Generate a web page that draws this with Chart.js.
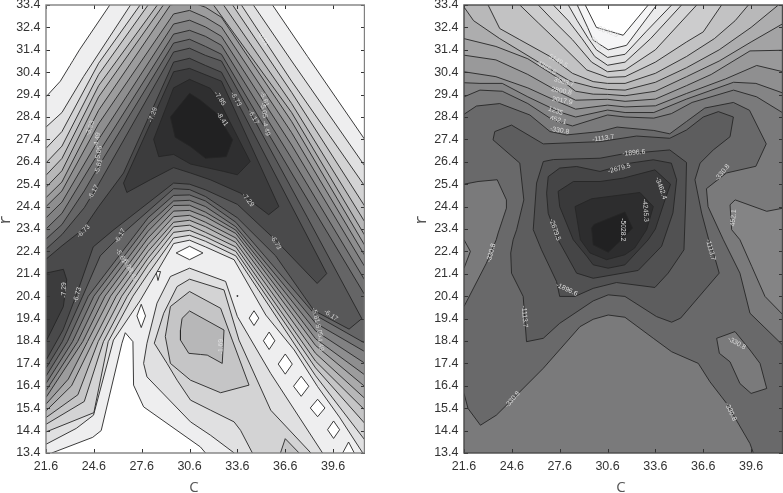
<!DOCTYPE html>
<html><head><meta charset="utf-8">
<style>
html,body{margin:0;padding:0;background:#fff;width:783px;height:493px;overflow:hidden}
.w{position:absolute;top:0;height:493px}
</style>
<script src="https://cdn.jsdelivr.net/npm/chart.js@4"></script>
</head><body>
<div class="w" style="left:0;width:365px"><canvas id="a"></canvas></div>
<div class="w" style="left:415px;width:368px"><canvas id="b"></canvas></div>
<script>
const xTicks=[21.6,24.6,27.6,30.6,33.6,36.6,39.6];
const yTicks=[13.4,14.4,15.4,16.4,17.4,18.4,19.4,20.4,21.4,22.4,23.4,24.4,25.4,26.4,27.4,28.4,29.4,30.4,31.4,32.4,33.4];

// LEFT PLOT: contour outlines, data coordinates (C, r)
const A15=[[20.5,29.3],[21.6,29.3],[22.5,30],[23.7,31.4],[25.6,33.4],[25.6,34.5],[35.8,34.5],[35.8,33.4],[38,31.1],[41.6,27.38],[42.5,26.4],[42.5,12.5],[31.6,12.5],[31.6,13.4],[31.28,13.67],[27.72,15.46],[27.09,16.43],[27.05,18.37],[26.57,18.77],[26.36,18.3],[25.06,14.4],[24.53,14.1],[21.96,13.4],[21.96,12.5],[20.5,12.5]];
const A14=[[20.5,27.95],[21.6,27.95],[22.6,28.6],[23.95,30.2],[26.9,33.4],[26.9,34.5],[34.6,34.5],[34.6,33.4],[37,30.9],[41.6,26.2],[42.5,26.2],[42.5,12.5],[41.46,12.5],[41.46,13.4],[40,15],[38.63,16.36],[37.16,18],[35.38,19.56],[33.39,22.03],[31.6,22.6],[30.6,22.9],[29.6,22.75],[27.5,20.2],[25.83,18.44],[24.58,15.09],[23.5,14.5],[21.6,13.79],[20.5,13.79]];
const A13=[[20.5,27],[21.6,27],[22.6,27.75],[24.9,30.8],[27.5,33.4],[27.5,34.5],[33.85,34.5],[33.85,33.4],[37,30],[41.6,25.3],[42.5,25.3],[42.5,13.97],[41.6,13.97],[38.5,16.85],[33.5,22.2],[31.6,22.85],[30.6,23.12],[29.6,23],[28,21.4],[27.05,20.4],[25.5,18.37],[24.6,15.2],[21.6,14.34],[20.5,14.34]];
const A12=[[20.5,26.35],[21.6,26.35],[22.6,27.1],[24.9,30.3],[28,33.4],[28,34.5],[33.3,34.5],[33.3,33.4],[37,29.5],[41.6,24.4],[42.5,24.4],[42.5,14.71],[41.6,14.71],[38.5,17.2],[33.5,22.4],[31.6,23.05],[30.6,23.34],[29.6,23.25],[28,21.8],[26.7,20.4],[25.2,18.37],[24,15.7],[21.6,14.68],[20.5,14.68]];
const A11=[[20.5,25.8],[21.6,25.8],[22.6,26.55],[24.9,29.8],[28.58,33.4],[28.58,34.5],[32.73,34.5],[32.73,33.4],[37,29],[41.6,23.7],[42.5,23.7],[42.5,15.31],[41.6,15.31],[38.5,17.5],[33.5,22.6],[31.6,23.25],[30.6,23.57],[29.6,23.5],[28,22.1],[26.35,20.4],[24.87,18.37],[23.6,16],[21.6,14.98],[20.5,14.98]];
const A10=[[20.5,25.26],[21.6,25.26],[22.6,26],[24.9,29.3],[28.96,33.4],[28.96,34.5],[32.1,34.5],[32.1,33.4],[37,28.6],[41.6,23.1],[42.5,23.1],[42.5,15.83],[41.6,15.83],[38.5,17.85],[33.5,22.8],[31.6,23.5],[30.6,23.79],[29.6,23.7],[28,22.4],[26,20.4],[24.55,18.37],[23.2,16.4],[21.6,15.28],[20.5,15.28]];
const A9=[[20.5,24.8],[21.6,24.8],[22.6,25.5],[24.9,28.7],[29.4,33.4],[30.6,33.55],[31.6,33.3],[32.6,32.85],[37,28.2],[41.6,22.65],[42.5,22.65],[42.5,16.36],[41.6,16.36],[38.5,18.2],[33.5,23],[31.6,23.7],[30.6,24.01],[29.6,23.95],[28,22.7],[25.65,20.4],[24.2,18.37],[23,16.7],[21.6,15.58],[20.5,15.58]];
const A8=[[20.5,24.4],[21.6,24.4],[22.6,25.1],[24.9,28.1],[29.6,33],[30.6,33.16],[31.6,32.85],[32.6,32.42],[37,27.7],[41.6,22.2],[42.5,22.2],[42.5,16.88],[41.6,16.88],[38.5,18.5],[33.5,23.2],[31.6,23.95],[30.6,24.23],[29.6,24.2],[28,23],[25.3,20.4],[23.9,18.37],[21.6,15.88],[20.5,15.88]];
const A7=[[20.5,23.9],[21.6,23.9],[22.6,24.6],[24.9,27.4],[29.6,32.55],[30.6,32.72],[31.6,32.42],[32.6,32],[37,27.15],[41.6,21.7],[42.5,21.7],[42.5,17.4],[41.6,17.4],[38.5,18.85],[33.5,23.35],[31.6,24.15],[30.6,24.46],[29.6,24.45],[28,23.3],[24.95,20.4],[23.58,18.37],[21.6,16.18],[20.5,16.18]];
const A6=[[20.5,23.4],[21.6,23.4],[22.6,24.1],[24.9,26.8],[29.6,32.1],[30.6,32.27],[31.6,32],[32.6,31.6],[37,26.55],[41.6,21.1],[42.5,21.1],[42.5,17.92],[41.6,17.92],[38.5,19.2],[33.5,23.5],[31.6,24.4],[30.6,24.68],[29.6,24.65],[28,23.6],[24.6,20.4],[23.26,18.37],[21.6,16.5],[20.5,16.5]];
const A5=[[20.5,22.95],[21.6,22.95],[22.6,23.6],[24,25.1],[24.9,26.2],[29.6,31.7],[30.6,31.87],[31.6,31.55],[32.6,31.2],[37,25.9],[41.6,20.44],[42.5,20.44],[42.5,18.3],[41.6,18.3],[38.5,19.55],[33.5,23.7],[31.6,24.65],[30.6,24.92],[29.6,24.9],[28,23.9],[24.25,20.4],[22.94,18.37],[21.6,16.83],[20.5,16.83]];
const A4=[[20.5,22.5],[21.6,22.5],[22.6,23.15],[24,24.35],[24.9,25.4],[29.6,31.3],[30.6,31.47],[31.6,31.15],[32.6,30.9],[34.5,28.48],[38,23.9],[41.4,19.4],[40.6,18.93],[38.4,19.76],[36,22.2],[33.6,23.9],[31.6,24.85],[30.6,25.16],[29.6,25.2],[26.25,23.1],[25,22.2],[23.9,20.4],[22.62,18.37],[21.6,17.18],[20.5,17.18]];
const A3=[[20.5,22.05],[21.6,22.05],[22.6,22.65],[23.94,23.4],[24.9,24.4],[26.46,25.9],[29.6,30.85],[30.6,31.02],[31.6,30.7],[32.6,30.4],[33.5,29.2],[39.2,21.41],[38.6,20.97],[36,22.9],[33.6,24.5],[31.6,25.15],[30.6,25.4],[29.6,25.45],[25.8,23.34],[24.56,22.6],[23.53,20.5],[22.67,18.9],[21.65,17.6],[20.5,17.5]];
const A2=[[30.6,30.57],[29.6,30.42],[28.14,28.1],[26.46,25.45],[26.67,25.03],[28.14,25.6],[29.6,26.14],[30.66,25.9],[31.9,25.6],[33.8,25],[35.56,24.04],[36.2,24.4],[32.6,30]];
const A2b=[[20.5,21.43],[21.6,21.43],[22.69,21.6],[22.9,21.13],[22.69,19.94],[21.6,18.37],[20.5,18.37]];
const A1=[[30.6,30.08],[29.6,29.7],[28.35,27.4],[28.67,26.63],[29.6,26.73],[30.66,26.3],[32.74,25.97],[33.6,25.82],[34.4,26.41],[32.4,29.2],[31.9,29.68]];
const A0=[[30.6,29.46],[29.4,28.4],[29.7,27.5],[30.66,27.08],[31.6,26.56],[32.9,26.63],[33.3,27.38],[32.3,28.56],[31.28,29.15]];
const B14=[[27.72,17.4],[27.93,18.3],[28.56,20.09],[29.4,21.28],[30.6,21.65],[32.86,21.06],[33.6,19.49],[35.69,16.95],[38.94,13.4],[38.94,12.5],[33.4,12.5],[33.4,13.4],[31.92,14.19],[30.66,14.79],[27.93,16.8]];
const B13=[[28.39,18.3],[28.98,19.64],[29.82,20.83],[30.6,21.16],[32.76,20.68],[33.7,18.44],[35.69,15.31],[38.21,13.4],[38.21,12.5],[34.54,12.5],[34.54,13.4],[33.8,14.41],[33.39,14.79],[31.92,15.31],[30.66,15.76],[29.82,16.65],[29.19,17.4]];
const B12=[[29.08,18.6],[29.4,19.94],[30.6,20.61],[32.55,19.86],[33.28,18.44],[34.33,16.43],[32.55,16.09],[30.66,16.65],[29.4,17.4]];
const B12b=[[36.3,12.5],[36.3,13.4],[36.6,14.04],[37.47,13.4],[37.47,12.5]];
const B11=[[30.6,19.74],[30.13,19.41],[30.03,18.89],[30.03,18.44],[30.55,17.85],[31.28,17.8],[31.71,17.77],[32.65,17.4],[32.76,18.89]];
// isolated high spots of the left surface
const H1=[[29.76,22.33],[30.6,22.63],[31.44,22.33],[30.6,22.03]];
const H2=[[27.3,19.52],[27.57,20.04],[27.84,19.52],[27.57,19]];
const H3=[[28.5,21.5],[28.78,21.5],[28.62,21.1]];
const H4=[[34.34,19.42],[34.64,19.75],[34.94,19.42],[34.64,19.09]];
const H5=[[35.23,18.41],[35.59,18.8],[35.95,18.41],[35.59,18.02]];
const H6=[[36.16,17.37],[36.6,17.82],[37.04,17.37],[36.6,16.92]];
const H7=[[37.12,16.38],[37.6,16.83],[38.08,16.38],[37.6,15.93]];
const H8=[[38.17,15.41],[38.63,15.8],[39.09,15.41],[38.63,15.02]];
const H9=[[39.25,14.44],[39.63,14.83],[40.01,14.44],[39.63,14.05]];
const H10=[[40.2,12.5],[40.2,13.4],[40.57,13.89],[40.93,13.4],[40.93,12.5]];
const H11=[[33.57,20.41],[33.6,20.45],[33.64,20.41],[33.6,20.37]];

// RIGHT PLOT
const R19=[[29.2,33.4],[29.9,32.4],[31.58,32.05],[33.15,33.4]];
const R18=[[28.7,33.4],[29.35,32.4],[29.7,31.83],[30.64,31.4],[31.79,31.6],[33.68,33.4]];
const R17=[[28.14,33.4],[28.7,32.7],[29.4,31.9],[29.9,31.4],[30.6,31.06],[31.7,31.2],[33,32.2],[34.62,33.4]];
const R16=[[27.2,33.4],[28.14,32.7],[29,31.9],[29.8,31.1],[30.6,30.71],[31.7,30.85],[33.3,31.9],[35.24,33.4]];
const R15=[[26.26,33.4],[27.2,32.7],[28.4,31.85],[29.6,30.85],[30.6,30.42],[31.7,30.5],[33.6,31.4],[36.19,33.4]];
const R14=[[25.1,33.4],[26.26,32.6],[27.83,31.53],[29.3,30.5],[30.6,30.17],[31.7,30.2],[33.6,30.85],[35.55,31.75],[36.6,32.2],[37.75,33.4]];
const R13=[[23.11,33.4],[23.84,32.35],[25.1,31.85],[27,31.1],[28.4,30.35],[29.7,29.98],[30.6,29.9],[31.7,29.9],[33.6,30.35],[35.55,31.1],[37.3,31.9],[38.6,32.7],[39.43,33.4]];
const R12=[[21.6,33.31],[22.2,32.7],[23.84,31.9],[26.78,30.63],[28.25,30],[29.7,29.73],[30.6,29.63],[31.7,29.6],[33.6,29.95],[35.55,30.6],[37.6,31.4],[39.6,32.4],[41.31,33.4]];
const R11=[[21.6,31.9],[23.6,31.55],[25.6,31],[27.6,30.1],[28.6,29.55],[29.7,29.42],[30.6,29.41],[31.7,29.35],[33.6,29.55],[35.55,30.2],[37.6,30.9],[39.6,31.75],[41.6,32.57]];
const R10=[[21.6,31.16],[23.6,30.95],[25.6,30.3],[27.6,29.5],[28.6,29.15],[30.6,29.19],[31.7,29.1],[33.6,29.2],[35.55,29.8],[37.1,30.3],[39.53,31.35],[41.6,31.38]];
const R9=[[21.6,30.42],[23.6,30.2],[25.6,29.7],[27.6,29.05],[28.6,28.75],[30.6,28.93],[31.7,28.85],[33.6,28.9],[35.55,29.45],[38,30.1],[39.95,30.7],[41.6,30.42]];
const R8=[[21.6,29.93],[22.6,29.9],[24,29.9],[25.6,29.3],[27.6,28.62],[28.6,28.4],[30.6,28.71],[31.7,28.6],[33.5,28.6],[35.55,29.2],[38.5,29.95],[39.9,29.9],[41.6,29.47]];
const R7=[[21.6,29.3],[22.6,29.6],[24,29.55],[25.6,29],[27.2,28.25],[28.4,28],[30.6,28.49],[31.7,28.4],[33.5,28.35],[34.6,28.55],[35.9,29.05],[38.5,29.6],[39.95,29.3],[41.6,28.58]];
const R7h1=[[42.5,24.33],[41.6,24.33],[40.58,24.19],[38.6,24.7],[38.28,24.48],[38.38,23.37],[38.9,22.92],[39.64,21.73],[40.47,20.39],[41.58,19.58],[42.5,19.58]];
const R7h2=[[20.5,22.92],[21.6,22.92],[22,22.4],[21.6,21.65],[20.5,21.65]];
const R7h3=[[42,14.86],[41.5,14.86],[41.45,14.41],[41.55,14.1],[42,14.1]];
const R6=[[21.6,28.52],[22.38,28.89],[23.84,29],[25.73,28.49],[26.99,27.75],[28.04,27.6],[30.13,27.75],[31.2,27.95],[33.5,27.8],[34.5,27.65],[35.55,28.2],[36.7,28.8],[38.49,29.05],[39.5,28.7],[40.55,27.2],[39.9,26.2],[38.05,25.9],[36.8,25.2],[36.9,24.4],[37.86,22.92],[38.9,21.43],[39.53,19.64],[41.58,18.22],[42.5,17.3],[42.5,12.5],[40,12.5],[39.74,13.4],[39.53,13.82],[38.07,15.61],[37.02,16.58],[36.29,17.4],[34.62,17.92],[33.47,18.52],[31.69,19.46],[30.64,19.56],[29.7,19.37],[28.87,19.04],[26.57,17.18],[24.58,15.76],[23.63,15.09],[22.63,14.64],[21.85,15.39],[21.6,16.06],[20.5,16.06],[20.5,19.94],[21.6,19.94],[23,21.87],[23.62,22.92],[23.74,23.22],[24.26,24.33],[24.26,24.7],[23.68,25.6],[22.48,25.52],[21.6,25.4],[20.5,25.4],[20.5,28.52]];
const R6h=[[37.44,18.52],[38.59,18.82],[39.53,18],[40.16,17.4],[40.58,16.28],[39.6,16.06],[38.9,16.5],[38.28,17.47],[37.61,17.85]];
const R5=[[23.42,27.38],[23.53,27.75],[24.58,28.04],[26.57,27.2],[30.13,27.3],[32.42,27.55],[34.5,27.45],[35.55,27.82],[36.6,28.4],[37.55,28.64],[38.49,28.4],[38.28,27.52],[37.23,26.93],[36.4,26.34],[36.08,25.6],[36.5,24.11],[37,22.77],[37.3,22.18],[37.6,21.43],[35.18,19.42],[34.62,19.24],[33.67,19.49],[31.69,20.39],[30.64,20.46],[29.7,20.19],[27.6,19.19],[26.57,18.52],[25.52,18.37],[25.31,20.39],[24.58,21.43],[24.53,22.33],[24.68,22.92],[24.9,23.37],[25.35,24.7],[25.1,26.34]];
const R4=[[31.48,26.74],[34.5,26.93],[35.55,26.37],[35.5,24.7],[35.39,22.47],[34.4,21.43],[33.57,20.79],[31.16,21.01],[29.7,20.75],[28.56,20.39],[27.6,20.39],[27.4,21.06],[26.46,22.47],[25.94,23.37],[26.15,25.45],[26.57,26.41],[27.2,26.5],[30.13,26.56]];
const R3=[[26.88,25.74],[27.6,26.12],[28.66,26.19],[30.13,25.97],[32,26.34],[33.47,26.49],[34.6,26.34],[34.93,25.6],[34.7,24.12],[33.99,22.63],[32.52,21.55],[29.7,21.2],[28.66,21.43],[27.5,22.92],[26.88,24.1],[26.78,25]];
const R2=[[33.57,26.04],[34.55,25.4],[34.2,24.7],[33.6,23.4],[33.15,22.92],[31.69,21.8],[30.64,21.65],[29.7,21.8],[29.3,22.18],[28.45,22.92],[27.6,24.4],[27.5,25.08],[28.46,25.52],[30.13,25.52],[31.58,25.67]];
const R1=[[32.63,25.03],[33.47,24.4],[33.05,23.37],[32.3,22.55],[31.69,22.25],[30.54,22.03],[29.5,22.33],[28.9,22.92],[28.56,24.4],[29.6,24.75]];
const R0=[[31.69,24.16],[32.17,23.44],[31.48,22.92],[30.64,22.36],[29.7,22.7],[29.6,23.44],[29.75,23.6]];

// contour labels: text, C, r, text angle
const leftLabels=[["-7.29",28.3,28.5,-70],["-7.85",32.5,29.22,55],["-8.41",32.65,28.3,55],["-6.73",33.5,29.2,60],["-6.17",34.6,28.4,60],["-5.61",35.3,29.2,70],["-5.05",35.25,28.7,80],["-4.49",35.4,27.9,75],["-7.29",34.26,24.7,50],["-6.73",36,22.8,60],["-6.17",24.57,25.05,-60],["-6.73",23.95,23.3,-45],["-5.61",24.9,26.19,-75],["-5.05",24.9,26.78,-80],["-4.49",24.8,27.37,-80],["-3.93",24.37,27.9,-70],["-7.29",22.75,20.68,-90],["-6.73",23.57,20.46,-75],["-6.17",26.25,23.1,-60],["-5.61",26.3,22.2,60],["-5.05",26.7,21.8,60],["-4.49",27,21.4,60],["-6.17",39.46,19.55,35],["-5.61",38.5,19.55,75],["-5.05",38.7,18.9,75],["-4.49",38.8,18.3,80],["-0.57",23.1,30.9,-60],["-0.01",35.2,31.9,55],["-0.01",27.7,15.2,60],["-1.69",32.6,18.15,-90]];
const rightLabels=[["-5028.2",31.54,23.37,90],["-4245.3",32.98,24.23,85],["-3462.4",33.95,25.22,70],["-2679.5",31.33,26.1,-15],["-1896.6",32.25,26.8,-5],["-1113.7",30.33,27.45,-8],["-330.8",37.8,25.92,-50],["452.1",38.49,23.9,-85],["-1113.7",37.06,22.47,75],["-330.8",38.7,18.3,30],["-330.8",38.32,15.24,65],["-1896.6",28.04,20.7,25],["-2679.5",27.3,23.37,70],["-1113.7",25.4,19.49,85],["-330.8",23.3,22.33,-75],["-330.8",24.64,15.79,-50],["-330.8",27.6,27.8,10],["452.1",27.5,28.26,15],["1235",27.34,28.67,20],["2017.9",27.76,29.13,10],["2800.8",27.72,29.56,10],["3583.7",27.87,29.97,15],["4366.6",26.78,30.6,30],["5149.5",27.5,30.9,30],["9846.9",30.64,32.2,20],["9064",29.9,31.68,50]];

const g=v=>`rgb(${v},${v},${v+1})`;
const pts=a=>a.map(p=>({x:p[0],y:p[1]}));
function ds(a,fill){const d=pts(a);d.push(d[0]);return {data:d,showLine:true,fill:'shape',backgroundColor:fill,borderColor:'#262626',borderWidth:0.9,pointRadius:0,tension:0,clip:0};}
// region below a contour running from left to right across the plot
function below(l){const f=l[0],e=l[l.length-1],o=[...l];
 if(e[1]>=33.4)o.push([e[0],34.5],[42.5,34.5]);else o.push([42.5,e[1]]);
 o.push([42.5,12.5],[20.5,12.5]);
 if(f[1]>=33.4)o.push([20.5,34.5],[f[0],34.5]);else o.push([20.5,f[1]]);
 return o;}
const ga=k=>g(Math.round(33+k*13.67));
const leftOrder=[[A15,ga(15)],[H1,'#fff'],[H2,'#fff'],[H3,'#fff'],[H4,'#fff'],[H5,'#fff'],[H6,'#fff'],[H7,'#fff'],[H8,'#fff'],[H9,'#fff'],[H10,'#fff'],[H11,'#fff'],
 [A14,ga(14)],[B14,ga(14)],[A13,ga(13)],[B13,ga(13)],[A12,ga(12)],[B12,ga(12)],[B12b,ga(12)],[A11,ga(11)],[B11,ga(11)],[A10,ga(10)],[A9,ga(9)],[A8,ga(8)],[A7,ga(7)],[A6,ga(6)],[A5,ga(5)],[A4,ga(4)],[A3,ga(3)],[A2,ga(2)],[A2b,ga(2)],[A1,ga(1)],[A0,ga(0)]];
const gr=k=>g(k<=6?33+k*12:Math.round(122+(k-7)*10.25));
const rightOrder=[[below(R19),gr(19)],[below(R18),gr(18)],[below(R17),gr(17)],[below(R16),gr(16)],[below(R15),gr(15)],[below(R14),gr(14)],[below(R13),gr(13)],[below(R12),gr(12)],[below(R11),gr(11)],[below(R10),gr(10)],[below(R9),gr(9)],[below(R8),gr(8)],[below(R7),gr(7)],
 [R7h1,gr(8)],[R7h2,gr(8)],[R7h3,gr(8)],[R6,gr(6)],[R6h,gr(7)],[R5,gr(5)],[R4,gr(4)],[R3,gr(3)],[R2,gr(2)],[R1,gr(1)],[R0,gr(0)]];

function frame(labels,lineCol,labelCol){return {id:'frame',afterDatasetsDraw(c){
 const x=c.scales.x,y=c.scales.y,a=c.chartArea,k=c.ctx;k.save();
 k.font='6.8px "Liberation Sans"';k.textAlign='center';k.textBaseline='middle';
 for(const l of labels){k.save();k.translate(x.getPixelForValue(l[1]),y.getPixelForValue(l[2]));k.rotate(l[3]*Math.PI/180);
  k.fillStyle=(c.canvas.id==='a'&&(l[0].startsWith('-0')||l[0]==='-1.69'))?'rgba(255,255,255,.55)':labelCol;k.fillText(l[0],0,0);k.restore();}
 k.strokeStyle='#333';k.lineWidth=1;k.beginPath();
 for(const v of xTicks){const p=Math.round(x.getPixelForValue(v))+.5;k.moveTo(p,a.bottom);k.lineTo(p,a.bottom-4);k.moveTo(p,a.top);k.lineTo(p,a.top+4);}
 for(const v of yTicks){const p=Math.round(y.getPixelForValue(v))+.5;k.moveTo(a.left,p);k.lineTo(a.left+4,p);k.moveTo(a.right,p);k.lineTo(a.right-4,p);}
 k.stroke();k.strokeStyle=lineCol;k.lineWidth=1.4;k.strokeRect(a.left,a.top,a.right-a.left-.5,a.bottom-a.top);k.restore();}};}

function make(id,order,leftW,labels,lineCol,labelCol,cX,rX){
 new Chart(document.getElementById(id),{type:'scatter',
  data:{datasets:order.slice().reverse().map(o=>ds(o[0],o[1]))},
  plugins:[frame(labels,lineCol,labelCol)],
  options:{responsive:true,maintainAspectRatio:false,animation:false,events:[],
   layout:{padding:{top:5,bottom:0,left:0,right:0}},
   plugins:{legend:{display:false},tooltip:{enabled:false}},
   scales:{
    x:{type:'linear',min:21.6,max:41.6,grid:{display:false,drawTicks:false},border:{display:false},
     afterBuildTicks:s=>{s.ticks=xTicks.map(v=>({value:v}));},
     afterFit:s=>{s.height=40;s.paddingLeft=0;s.paddingRight=0;
      s.drawTitle=()=>{const k=s.ctx;k.save();k.font='15px "Open Sans"';k.fillStyle='#555';k.textAlign='center';k.textBaseline='middle';k.fillText('C',cX,488);k.restore();};},
     ticks:{autoSkip:false,maxRotation:0,padding:6,color:'#333',font:{family:'"Liberation Sans"',size:12.5},callback:v=>v.toFixed(1)},
     title:{display:true,text:'C',color:'#555',font:{family:'"Open Sans"',size:15}}},
    y:{type:'linear',min:13.4,max:33.4,grid:{display:false,drawTicks:false},border:{display:false},
     afterBuildTicks:s=>{s.ticks=yTicks.map(v=>({value:v}));},
     afterFit:s=>{s.width=leftW;s.paddingTop=0;s.paddingBottom=0;
      s.drawTitle=()=>{const k=s.ctx;k.save();k.translate(rX,220);k.rotate(-Math.PI/2);k.font='17px "Liberation Mono"';k.fillStyle='#555';k.textAlign='center';k.textBaseline='middle';k.fillText('r',0,0);k.restore();};},
     ticks:{autoSkip:false,padding:5.5,color:'#333',font:{family:'"Liberation Sans"',size:12.5},callback:v=>v.toFixed(1)},
     title:{display:true,text:'r',color:'#555',font:{family:'"Liberation Mono"',size:17}}}
   }}});
}
make('a',leftOrder,46,leftLabels,'#808080','#d4d4d4',194,5);
make('b',rightOrder,49,rightLabels,'#4a4a4a','#dddddd',206,6);
</script>
</body></html>
